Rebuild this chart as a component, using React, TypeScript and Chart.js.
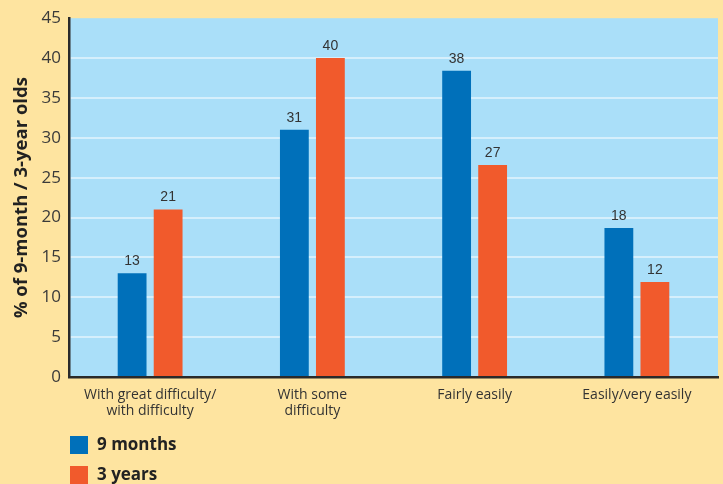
import React, { useEffect, useRef } from "react";
import { Chart, registerables } from "chart.js";
Chart.register(...registerables);

const categories = [
  ["With great difficulty/", "with difficulty"],
  ["With some", "difficulty"],
  ["Fairly easily"],
  ["Easily/very easily"],
];
const seriesNames = ["9 months", "3 years"];
const nineMonths = [13, 31, 38.4, 18.7];
const threeYears = [21, 40, 26.6, 11.9];
const nineMonthsLabels = ["13", "31", "38", "18"];
const threeYearsLabels = ["21", "40", "27", "12"];
const seriesColors = ["#0070BA", "#F15A2C"];
const yMin = 0;
const yMax = 45;
const yStep = 5;
const yTitle = "% of 9-month / 3-year olds";

const PAGE_BG = "#FEE4A0";
const PLOT_BG = "#AADFF9";

const bgPlugin = {
  id: "plotBg",
  beforeDraw(chart: any) {
    const { ctx, chartArea } = chart;
    ctx.save();
    ctx.fillStyle = PAGE_BG;
    ctx.fillRect(0, 0, chart.width, chart.height);
    ctx.fillStyle = PLOT_BG;
    ctx.fillRect(chartArea.left, chartArea.top, chartArea.right - chartArea.left, chartArea.bottom - chartArea.top);
    ctx.restore();
  },
};

const barLabelPlugin = {
  id: "barLabels",
  afterDatasetsDraw(chart: any) {
    const { ctx } = chart;
    const labelSets = [nineMonthsLabels, threeYearsLabels];
    ctx.save();
    ctx.font = "14px 'Liberation Sans', Arial, sans-serif";
    ctx.fillStyle = "#333333";
    ctx.textAlign = "center";
    ctx.textBaseline = "bottom";
    chart.data.datasets.forEach((_ds: any, di: number) => {
      const meta = chart.getDatasetMeta(di);
      meta.data.forEach((el: any, i: number) => {
        ctx.fillText(labelSets[di][i], el.x, el.y - 5);
      });
    });
    ctx.restore();
  },
};

const legendPlugin = {
  id: "stackLegend",
  afterDraw(chart: any) {
    const { ctx } = chart;
    ctx.save();
    ctx.font = "bold 17px 'Open Sans', sans-serif";
    ctx.textAlign = "left";
    ctx.textBaseline = "middle";
    chart.data.datasets.forEach((ds: any, i: number) => {
      const y = 436 + i * 30;
      ctx.fillStyle = ds.backgroundColor;
      ctx.fillRect(70, y, 18, 18);
      ctx.fillStyle = "#222222";
      ctx.fillText(ds.label, 97, y + 9);
    });
    ctx.restore();
  },
};

export default function App() {
  const ref = useRef<HTMLCanvasElement>(null);
  useEffect(() => {
    document.body.style.margin = "0";
    const chart = new Chart(ref.current!, {
      type: "bar",
      data: {
        labels: categories as any,
        datasets: [
          { label: seriesNames[0], data: nineMonths, backgroundColor: seriesColors[0], barPercentage: 0.8, categoryPercentage: 0.444 },
          { label: seriesNames[1], data: threeYears, backgroundColor: seriesColors[1], barPercentage: 0.8, categoryPercentage: 0.444 },
        ],
      },
      options: {
        animation: false,
        responsive: false,
        maintainAspectRatio: false,
        layout: { padding: { top: 17, right: 5, left: 0, bottom: 0 } },
        plugins: { legend: { display: false }, tooltip: { enabled: false } },
        scales: {
          x: {
            grid: { display: false, drawTicks: false },
            border: { display: true, color: "#2a2a2a", width: 2.5 },
            ticks: {
              font: { family: "'Open Sans', sans-serif", size: 14, lineHeight: 1.15 },
              color: "#333333",
              padding: 10,
              maxRotation: 0,
              autoSkip: false,
            },
            afterFit(scale: any) {
              scale.height = 107;
            },
          },
          y: {
            min: yMin,
            max: yMax,
            ticks: {
              stepSize: yStep,
              font: { family: "'Open Sans', sans-serif", size: 17 },
              color: "#3a3a3a",
              padding: 8,
            },
            grid: {
              drawTicks: false,
              lineWidth: 2,
              color: (c: any) => (c.tick && (c.tick.value === yMin || c.tick.value === yMax) ? "rgba(0,0,0,0)" : "rgba(255,255,255,0.5)"),
            },
            border: { display: true, color: "#2a2a2a", width: 2.5 },
            title: {
              display: true,
              text: yTitle,
              font: { family: "'Open Sans', sans-serif", size: 18.5, weight: "bold" },
              color: "#222222",
              padding: { top: 11, bottom: 0 },
            },
            afterFit(scale: any) {
              scale.width = 69;
            },
          },
        },
      },
      plugins: [bgPlugin, barLabelPlugin, legendPlugin],
    } as any);
    return () => chart.destroy();
  }, []);
  return <canvas ref={ref} width={723} height={484} style={{ display: "block" }} />;
}
